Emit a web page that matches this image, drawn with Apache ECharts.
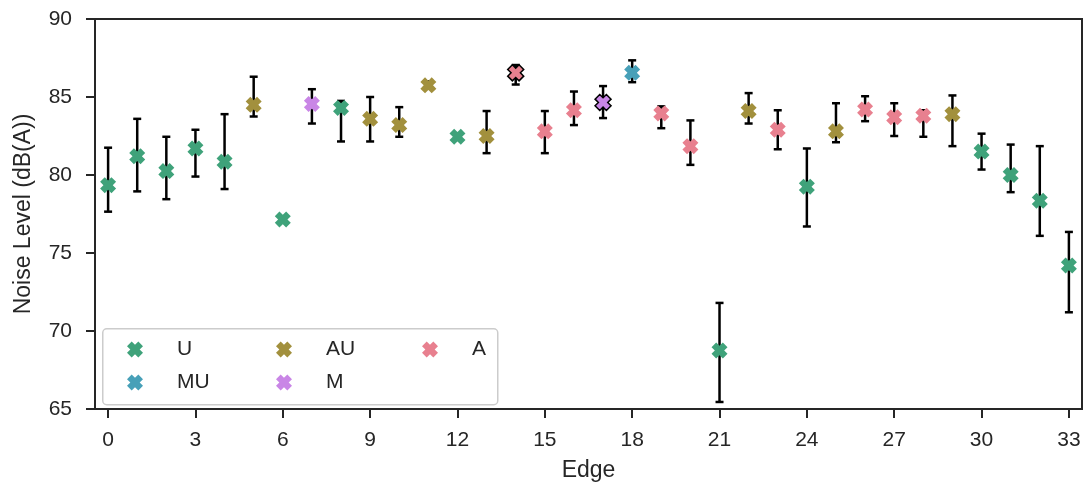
<!DOCTYPE html>
<html>
<head>
<meta charset="utf-8">
<script src="https://cdn.jsdelivr.net/npm/echarts@6/dist/echarts.min.js"></script>
<style>
html,body{margin:0;padding:0;background:#fff;}
#chart{width:1088px;height:488px;}
</style>
</head>
<body>
<div id="chart"></div>
<script>
// ---- data ----
const edges = [0,1,2,3,4,5,6,7,8,9,10,11,12,13,14,15,16,17,18,19,20,21,22,23,24,25,26,27,28,29,30,31,32,33];
const edgeType = ['U','U','U','U','U','AU','U','M','U','AU','AU','AU','U','AU','A','A','A','M','MU','A','A','U','AU','A','U','AU','A','A','A','AU','U','U','U','U'];
const noiseMean = [79.35,81.2,80.25,81.7,80.85,84.5,77.15,84.55,84.3,83.6,83.2,85.75,82.45,82.5,86.55,82.8,84.15,84.65,86.55,83.95,81.85,68.75,84.1,82.9,79.25,82.8,84.2,83.7,83.8,83.9,81.5,80.0,78.35,74.2];
const errLow  = [77.65,78.95,78.45,79.9,79.1,83.75,null,83.3,82.15,82.15,82.45,85.7,null,81.4,85.8,81.4,83.2,83.65,85.95,83.0,80.65,65.45,83.3,81.65,76.7,82.1,83.45,82.5,82.45,81.85,80.35,78.9,76.1,71.2];
const errHigh = [81.75,83.6,82.45,82.9,83.9,86.3,null,85.5,84.75,85.0,84.35,86.0,null,84.1,87.05,84.1,85.35,85.7,87.35,84.4,83.5,71.8,85.25,84.15,81.7,84.6,85.05,84.6,84.15,85.1,82.65,81.95,81.85,76.35];
const categories = ['U','MU','AU','M','A'];
const xTicks = [0,3,6,9,12,15,18,21,24,27,30,33];
const yTicks = [65,70,75,80,85,90];

// ---- styles ----
const colors = {U:'#3fa27a', MU:'#47a0b8', AU:'#a2903d', M:'#c986e6', A:'#e8808f'};
const outlined = new Set([14,17]);
const xSymbol = 'path://M3.5 0 L6 2.5 L8.5 0 L12 3.5 L9.5 6 L12 8.5 L8.5 12 L6 9.5 L3.5 12 L0 8.5 L2.5 6 L0 3.5 Z';
const textColor = '#262626';
const font = 'Liberation Sans, Arial, sans-serif';

const errData = [];
edges.forEach((e,i)=>{ if(errLow[i]!=null) errData.push([e, errLow[i], errHigh[i]]); });

const scatterSeries = categories.map(cat => ({
  name: cat,
  type: 'scatter',
  symbol: xSymbol,
  symbolSize: 16,
  z: 5,
  itemStyle: {color: colors[cat], opacity: 1},
  data: edges.map((e,i)=> edgeType[i]===cat ? (outlined.has(i)
      ? {value:[e, noiseMean[i]], itemStyle:{borderColor:'#000', borderWidth:1.5}}
      : [e, noiseMean[i]]) : null).filter(d=>d!==null)
}));

const errSeries = {
  type: 'custom',
  name: 'err',
  z: 3,
  silent: true,
  data: errData,
  renderItem: function(params, api){
    const x = api.value(0);
    const lo = api.coord([x, api.value(1)]);
    const hi = api.coord([x, api.value(2)]);
    const hw = 4;
    const st = {stroke:'#000', lineWidth:2.5};
    return {type:'group', children:[
      {type:'line', shape:{x1:lo[0], y1:lo[1], x2:hi[0], y2:hi[1]}, style:st},
      {type:'line', shape:{x1:lo[0]-hw, y1:lo[1], x2:lo[0]+hw, y2:lo[1]}, style:st},
      {type:'line', shape:{x1:hi[0]-hw, y1:hi[1], x2:hi[0]+hw, y2:hi[1]}, style:st}
    ]};
  }
};

function legendCol(items, left){
  return {
    data: items,
    orient: 'vertical',
    left: left,
    top: 339,
    padding: 0,
    itemWidth: 16,
    itemHeight: 16,
    itemGap: 12,
    selectedMode: false,
    textStyle: {color:textColor, fontSize:21, fontFamily:font, lineHeight:18, padding:[0,0,0,29]}
  };
}

const chart = echarts.init(document.getElementById('chart'), null, {renderer:'canvas'});
chart.setOption({
  animation: false,
  backgroundColor: '#fff',
  grid: {left:95, right:6, top:19, bottom:79, show:true, borderColor:textColor, borderWidth:2, containLabel:false},
  xAxis: {
    type:'value', min:-0.45, max:33.45,
    name:'Edge', nameLocation:'middle', nameGap:50,
    nameTextStyle:{color:textColor, fontSize:23, fontFamily:font},
    axisLine:{show:true, onZero:false, lineStyle:{color:textColor, width:2}},
    axisTick:{show:true, length:9, customValues:xTicks, lineStyle:{color:textColor, width:2}},
    axisLabel:{color:textColor, fontSize:21, fontFamily:font, margin:21, customValues:xTicks},
    splitLine:{show:false}
  },
  yAxis: {
    type:'value', min:65, max:90, interval:5,
    name:'Noise Level (dB(A))', nameLocation:'middle', nameGap:60,
    nameTextStyle:{color:textColor, fontSize:23, fontFamily:font},
    axisLine:{show:true, onZero:false, lineStyle:{color:textColor, width:2}},
    axisTick:{show:true, length:9, lineStyle:{color:textColor, width:2}},
    axisLabel:{color:textColor, fontSize:21, fontFamily:font, margin:23, customValues:yTicks},
    splitLine:{show:false}
  },
  legend: [legendCol(['U','MU'],127), legendCol(['AU','M'],276), legendCol(['A'],422)],
  graphic: [{
    type:'rect', left:102, top:328, z:-1,
    shape:{width:395, height:76, r:4},
    style:{fill:'rgba(255,255,255,0.8)', stroke:'#cccccc', lineWidth:1.5}
  }],
  series: [errSeries].concat(scatterSeries)
});
</script>
</body>
</html>
